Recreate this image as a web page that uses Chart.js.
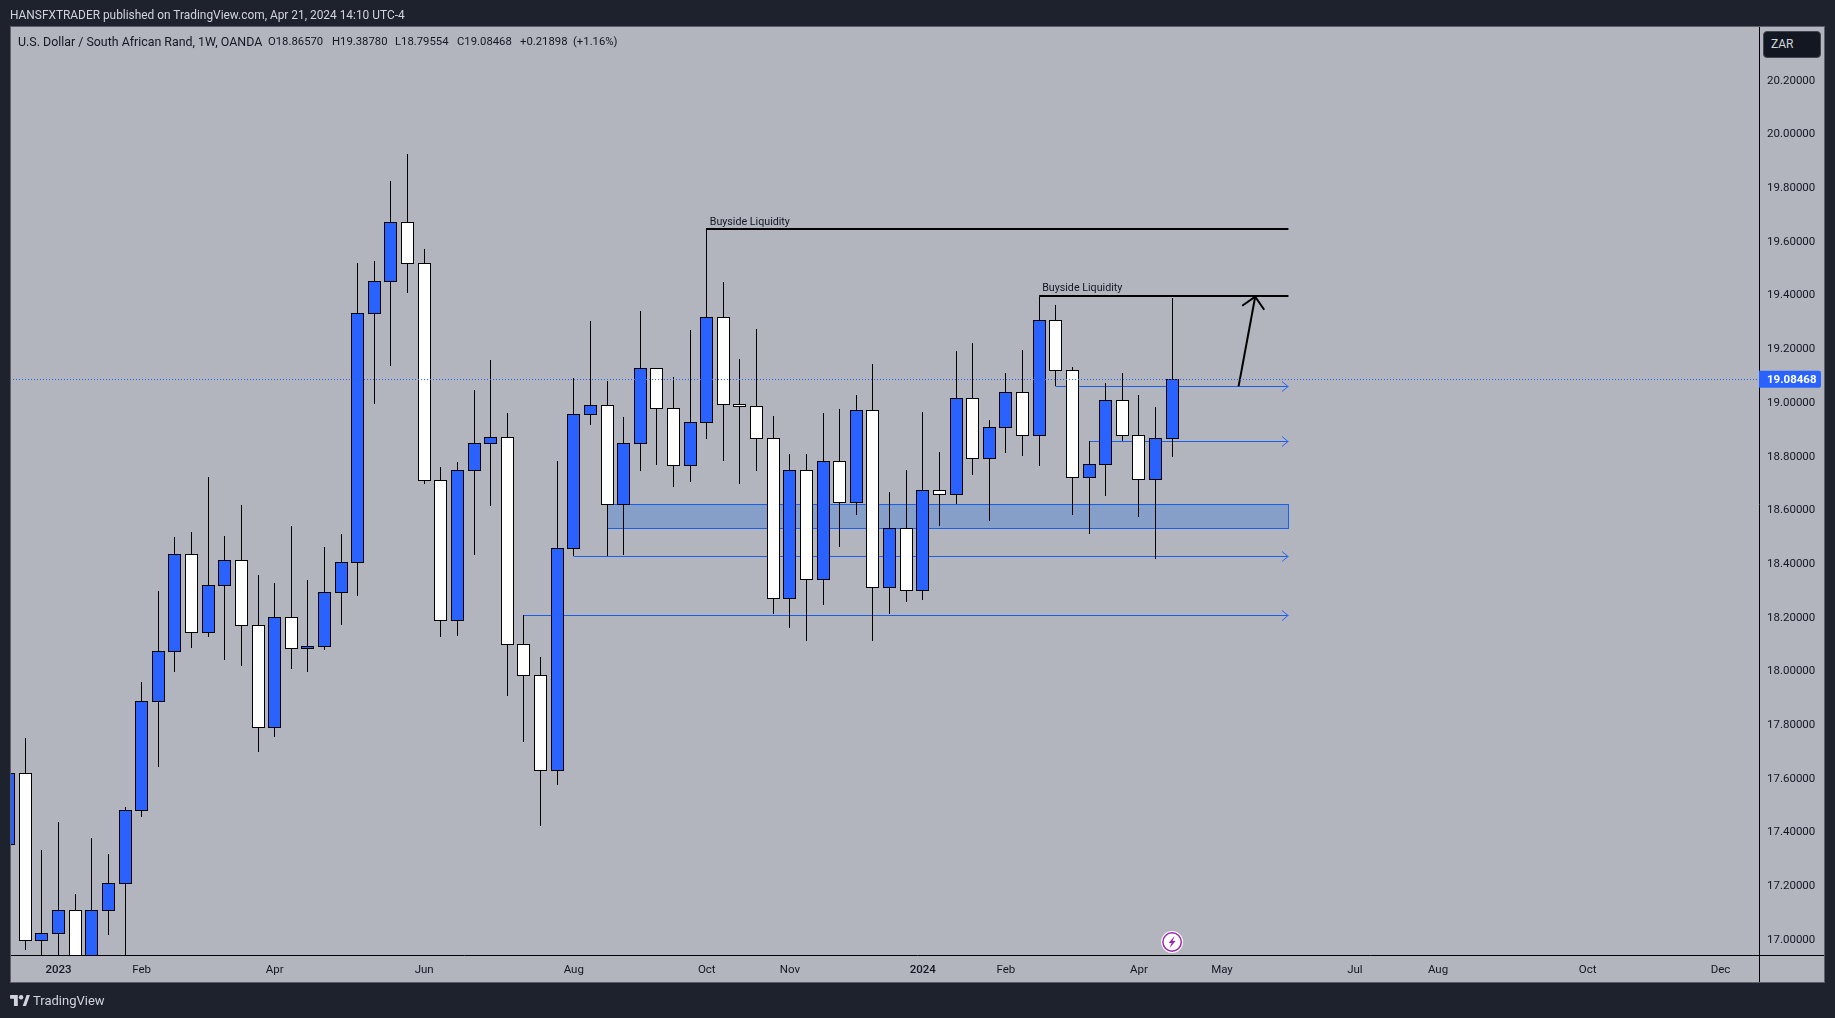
<!DOCTYPE html>
<html>
<head>
<meta charset="utf-8">
<title>USDZAR 1W</title>
<script src="https://cdn.jsdelivr.net/npm/chart.js@4"></script>
<style>
html,body{margin:0;padding:0;background:#1e222d;width:1835px;height:1018px;overflow:hidden}
canvas{position:absolute;left:0;top:0}
.t{position:absolute;white-space:nowrap;font-family:Roboto,sans-serif;line-height:16px}
.h{color:#d1d4dc;font-size:11.9px}
.l{color:#131722;font-size:12.4px}
.n{color:#131722;font-size:11.3px}
#zar{position:absolute;left:1763px;top:31px;width:56px;height:25px;background:#131722;border:1px solid #434651;border-radius:4px;color:#d1d4dc;font:12px/25px Roboto,sans-serif;text-indent:7px}
#tvl{position:absolute;left:10px;top:995px}
</style>
</head>
<body>
<canvas id="c" width="1835" height="1018"></canvas>
<div class="t h" style="left:10px;top:7px">HANSFXTRADER published on TradingView.com, Apr 21, 2024 14:10 UTC-4</div>
<div class="t l" style="left:18px;top:34px">U.S. Dollar / South African Rand, 1W, OANDA</div>
<div class="t n" style="left:268px;top:34px">O18.86570</div>
<div class="t n" style="left:332px;top:34px">H19.38780</div>
<div class="t n" style="left:395px;top:34px">L18.79554</div>
<div class="t n" style="left:457px;top:34px">C19.08468</div>
<div class="t n" style="left:520px;top:34px">+0.21898</div>
<div class="t n" style="left:573px;top:34px">(+1.16%)</div>
<div id="zar">ZAR</div>
<svg id="tvl" width="20" height="11" viewBox="0 0 36 20"><path fill="#d1d4dc" d="M0 0h14v20H7V7H0zM23 20l7-20h6l-7 20z"/><circle cx="20" cy="4" r="4" fill="#d1d4dc"/></svg>
<div class="t" style="left:33px;top:993px;color:#d1d4dc;font-size:13px">TradingView</div>
<script>
const tickIndex  = [3,8,16,25,34,42,47,55,60,68,73,81,86,95,103];
const tickLabels = ['2023','Feb','Apr','Jun','Aug','Oct','Nov','2024','Feb','Apr','May','Jul','Aug','Oct','Dec'];
const yearLabels = ['2023','2024'];
const priceTicks = [17,17.2,17.4,17.6,17.8,18,18.2,18.4,18.6,18.8,19,19.2,19.4,19.6,19.8,20,20.2];

const opens  = [17.353,17.617,16.995,17.021,17.107,16.877,17.107,17.207,17.479,17.888,18.072,18.433,18.142,18.317,18.410,18.168,17.788,18.198,18.083,18.090,18.291,18.403,19.330,19.450,19.669,19.517,18.708,18.187,18.746,18.846,18.869,18.098,17.982,17.628,18.455,18.954,18.988,18.619,18.846,19.126,18.977,18.764,18.924,19.315,18.991,18.984,18.865,18.269,18.746,18.340,18.779,18.629,18.969,18.310,18.530,18.299,18.671,18.656,19.014,18.790,18.906,19.036,18.876,19.304,19.118,18.720,18.768,19.006,18.876,18.712,18.8657];
const closes = [17.617,16.995,17.021,17.107,16.877,17.107,17.207,17.479,17.888,18.072,18.433,18.142,18.317,18.410,18.168,17.788,18.198,18.083,18.090,18.291,18.403,19.330,19.450,19.669,19.517,18.708,18.187,18.746,18.846,18.869,18.098,17.982,17.628,18.455,18.954,18.988,18.619,18.846,19.126,18.977,18.764,18.924,19.315,18.991,18.984,18.865,18.269,18.746,18.340,18.779,18.629,18.969,18.310,18.530,18.299,18.671,18.656,19.014,18.790,18.906,19.036,18.876,19.304,19.118,18.720,18.768,19.006,18.876,18.712,18.865,19.0847];
const highs  = [17.617,17.747,17.331,17.436,17.168,17.376,17.317,17.491,17.957,18.296,18.497,18.516,18.721,18.501,18.616,18.356,18.326,18.538,18.337,18.460,18.508,19.518,19.525,19.823,19.924,19.570,18.758,18.777,19.045,19.156,18.959,18.207,18.050,18.780,19.088,19.302,19.078,18.944,19.339,19.126,19.093,19.268,19.648,19.446,19.160,19.272,18.948,18.806,18.806,18.958,18.974,19.026,19.142,18.665,18.747,18.963,18.814,19.190,19.220,18.933,19.108,19.194,19.392,19.361,19.130,18.854,19.071,19.108,19.026,18.981,19.3878];
const lows   = [17.353,16.960,16.903,16.903,16.829,16.829,17.016,16.903,17.455,17.642,17.996,18.084,18.126,18.040,18.018,17.698,17.753,18.007,17.996,18.077,18.171,18.279,18.993,19.135,19.407,18.696,18.126,18.130,18.431,18.614,17.906,17.735,17.422,17.575,18.425,18.915,18.425,18.430,18.744,18.766,18.685,18.703,18.863,18.781,18.696,18.744,18.212,18.159,18.111,18.245,18.461,18.580,18.111,18.212,18.256,18.264,18.539,18.621,18.729,18.558,18.811,18.800,18.763,19.060,18.580,18.510,18.651,18.855,18.573,18.416,18.7955];

const lastPrice = 19.08468;
const zone = {from:36, to:77, top:18.619, bottom:18.530};
const rayStart = [31,34,65,63];
const rayPrice = [18.205,18.425,18.854,19.058];
const rayEnd = 77;
const levelStart = [42,62];
const levelPrice = [19.644,19.396];
const levelLabels = ['Buyside Liquidity','Buyside Liquidity'];
const arrowFrom = {x:74, y:19.058};
const arrowTo   = {x:75, y:19.392};
const eventIndex = 70;

const BLUE='#2962ff', RAY='#1a5fe8', BG='#b2b5be', FRAME='#5d606b', INK='#131722';
const FONT='Roboto, sans-serif';
const ind = opens.map((_,i)=>i);
const pxX = 16.62, x0 = 8.7;          // candle pitch of the reference
const line = (data,color,width,order,extra)=>Object.assign({type:'line',data,borderColor:color,borderWidth:width,pointRadius:0,tension:0,fill:false,order},extra||{});

const datasets = [
  line([{x:zone.from,y:zone.top},{x:zone.to,y:zone.top}],'rgba(0,0,0,0)',0,7,{fill:'+1',backgroundColor:'#869fc9'}),
  line([{x:zone.from,y:zone.bottom},{x:zone.to,y:zone.bottom}],'rgba(0,0,0,0)',0,7),
  line([{x:zone.from,y:zone.top},{x:zone.to,y:zone.top},{x:zone.to,y:zone.bottom},{x:zone.from,y:zone.bottom},{x:zone.from,y:zone.top}],RAY,1,6),
];
rayStart.forEach((s,i)=>datasets.push(line([{x:s,y:rayPrice[i]},{x:rayEnd,y:rayPrice[i]}],RAY,1,6)));
datasets.push({type:'bar',data:ind.map(i=>({x:i,y:[lows[i],highs[i]]})),backgroundColor:'#000',borderWidth:0,barThickness:1,grouped:false,order:4,inflateAmount:0,_wick:true});
datasets.push({type:'bar',data:ind.map(i=>({x:i,y:[opens[i],closes[i]]})),backgroundColor:ind.map(i=>closes[i]>=opens[i]?BLUE:'#ffffff'),borderColor:'#000',borderWidth:1,borderSkipped:false,barThickness:13,grouped:false,order:3,inflateAmount:0,_body:true});
levelStart.forEach((s,i)=>datasets.push(line([{x:s,y:levelPrice[i]},{x:rayEnd,y:levelPrice[i]}],'#000',2,2)));
datasets.push(line([arrowFrom,arrowTo],'#000',2,2,{_free:true}));
datasets.push(line([{x:-5,y:lastPrice},{x:110,y:lastPrice}],BLUE,1,1,{borderDash:[1,2]}));

const snap = {
  id:'snap',
  afterDatasetsUpdate(ch){
    ch.data.datasets.forEach((d,k)=>{
      const m=ch.getDatasetMeta(k);
      m.data.forEach(e=>{
        if(d.type==='bar'){
          e.x=Math.floor(e.x)+0.5;
          const a=Math.min(e.y,e.base), b=Math.max(e.y,e.base);
          e.y=Math.round(a); e.base=Math.round(b)+(d._body?1:0);
        }else if(!d._free){
          const w=d.borderWidth;
          if(d.borderDash){e.y=Math.floor(e.y)+0.5; e.x=Math.round(e.x);}
          else if(w%2){e.y=Math.floor(e.y)+0.5; e.x=Math.floor(e.x)+0.5;}
          else {e.y=Math.round(e.y);}
        }
      });
    });
  }
};

const frame = {
  id:'frame',
  beforeDraw(ch){
    const c=ch.ctx;
    c.save();
    c.fillStyle='#1e222d';c.fillRect(0,0,1835,1018);
    c.fillStyle=BG;c.fillRect(10,27,1814,956);
    c.strokeStyle=FRAME;c.lineWidth=1;c.strokeRect(10.5,26.5,1814,956);
    c.restore();
  },
  afterDraw(ch){
    const c=ch.ctx,a=ch.chartArea,X=ch.scales.x,Y=ch.scales.y;
    c.save();
    c.strokeStyle='#000';c.lineWidth=1;c.beginPath();
    c.moveTo(a.right+0.5,27);c.lineTo(a.right+0.5,982);
    c.moveTo(11,a.bottom+0.5);c.lineTo(1824,a.bottom+0.5);c.stroke();
    c.strokeStyle=BLUE;c.lineWidth=1;
    rayPrice.forEach(p=>{
      const x=Math.round(X.getPixelForValue(rayEnd)),y=Math.floor(Y.getPixelForValue(p))+0.5;
      c.beginPath();c.moveTo(x-6,y-5);c.lineTo(x,y);c.lineTo(x-6,y+5);c.stroke();
    });
    const tx=X.getPixelForValue(arrowTo.x),ty=Y.getPixelForValue(arrowTo.y);
    c.strokeStyle='#000';c.lineWidth=2;c.beginPath();
    c.moveTo(tx-13,ty+9);c.lineTo(tx,ty);c.lineTo(tx+9,ty+13);c.stroke();
    c.fillStyle=INK;c.font='10.7px '+FONT;c.textBaseline='middle';c.textAlign='left';
    levelStart.forEach((s,i)=>{
      c.fillText(levelLabels[i],X.getPixelForValue(s)+3,Y.getPixelForValue(levelPrice[i])-7);
    });
    const py=Y.getPixelForValue(lastPrice);
    c.fillStyle=BLUE;c.beginPath();c.roundRect(a.right,py-8.5,62,17,[0,2,2,0]);c.fill();
    c.fillStyle='#fff';c.font='bold 11.5px '+FONT;c.textAlign='left';
    c.fillText(lastPrice.toFixed(5),a.right+8,py+0.5);
    const ex=X.getPixelForValue(eventIndex),ey=a.bottom-13;
    c.fillStyle='#fff';c.beginPath();c.arc(ex,ey,11,0,Math.PI*2);c.fill();
    c.strokeStyle='#9c27b0';c.lineWidth=1.5;c.beginPath();c.arc(ex,ey,9.2,0,Math.PI*2);c.stroke();
    c.fillStyle='#9c27b0';c.beginPath();
    c.moveTo(ex+2.5,ey-6);c.lineTo(ex-3.5,ey+1);c.lineTo(ex-0.5,ey+1);c.lineTo(ex-2.5,ey+6);c.lineTo(ex+3.5,ey-1);c.lineTo(ex+0.5,ey-1);c.closePath();c.fill();
    c.restore();
  }
};

new Chart(document.getElementById('c'),{
  type:'bar',
  data:{datasets},
  plugins:[snap,frame],
  options:{
    responsive:false,animation:false,devicePixelRatio:1,
    layout:{padding:{left:11,top:27,right:11,bottom:35}},
    plugins:{legend:{display:false},tooltip:{enabled:false},title:{display:false}},
    events:[],
    scales:{
      x:{type:'linear',offset:false,
        min:(11-x0)/pxX,max:(1759-x0)/pxX,
        grid:{display:false,drawTicks:false},border:{display:false},
        afterBuildTicks:s=>{s.ticks=tickIndex.map(v=>({value:v}));},
        afterFit:s=>{s.height=28;},
        ticks:{autoSkip:false,maxRotation:0,padding:8,color:INK,
          font:ctx=>({family:FONT,size:11.5,weight:ctx.tick&&yearLabels.includes(tickLabels[tickIndex.indexOf(ctx.tick.value)])?'500':'normal'}),
          callback:(v)=>tickLabels[tickIndex.indexOf(v)]}
      },
      y:{type:'linear',position:'right',
        min:19+(402-955)/268.5,max:19+(402-27)/268.5,
        grid:{display:false,drawTicks:false},border:{display:false},
        afterBuildTicks:s=>{s.ticks=priceTicks.map(v=>({value:v}));},
        afterFit:s=>{s.width=65;},
        ticks:{autoSkip:false,padding:8,labelOffset:1,color:INK,font:{family:FONT,size:11.5},callback:v=>v.toFixed(5)}
      }
    }
  }
});
</script>
</body>
</html>
